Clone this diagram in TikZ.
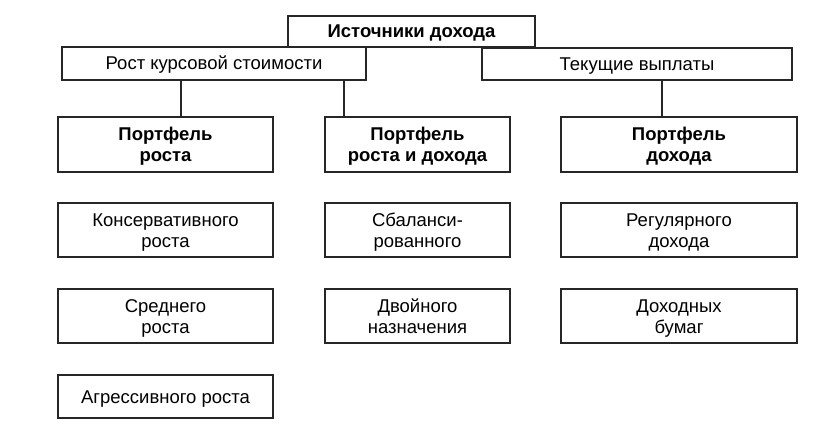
\documentclass[tikz,border=0pt]{standalone}
\usepackage{fontspec}
\setmainfont{Liberation Sans}

\begin{document}
\begin{tikzpicture}[x=1pt,y=-1pt,
		box/.style={draw=black!85,line width=1.3pt,align=center,inner sep=0pt,
			text height=13pt,text depth=0pt,font=\fontsize{18.5}{21}\selectfont},
		head/.style={box,font=\fontsize{18.5}{21}\selectfont\bfseries},
		two/.style={text height=34pt},
		link/.style={draw=black!85,line width=1.3pt}]
		\useasboundingbox (0,0) rectangle (838,425);

		% Top level
		\node[head,minimum width=247pt,minimum height=31pt] (src) at (411.5,31.5) {Источники дохода};
		\node[box,minimum width=304pt,minimum height=33pt] (growth) at (214,63.5) {Рост курсовой стоимости};
		\node[box,minimum width=310pt,minimum height=32pt] (pay) at (637,64) {Текущие выплаты};

		% Portfolios
		\node[head,two,minimum width=215pt,minimum height=55pt] (pg) at (165.5,144.5) {Портфель\\роста};
		\node[head,two,minimum width=185pt,minimum height=55pt] (pgi) at (417.5,144.5) {Портфель\\роста и дохода};
		\node[head,two,minimum width=236pt,minimum height=55pt] (pi) at (679,144.5) {Портфель\\дохода};

		% Kinds
		\node[box,two,minimum width=215pt,minimum height=54pt] (cons) at (165.5,230) {Консервативного\\роста};
		\node[box,two,minimum width=215pt,minimum height=54pt] (mid) at (165.5,316) {Среднего\\роста};
		\node[box,minimum width=215pt,minimum height=43pt] (aggr) at (165.5,396.5) {Агрессивного роста};
		\node[box,two,minimum width=185pt,minimum height=54pt] (bal) at (417.5,230) {Сбаланси-\\рованного};
		\node[box,two,minimum width=185pt,minimum height=54pt] (dual) at (417.5,316) {Двойного\\назначения};
		\node[box,two,minimum width=236pt,minimum height=54pt] (reg) at (679,230) {Регулярного\\дохода};
		\node[box,two,minimum width=236pt,minimum height=54pt] (bond) at (679,316) {Доходных\\бумаг};

		% Links
		\coordinate (l1) at (181,80);
		\coordinate (l2) at (344,80);
		\coordinate (l3) at (662,80);
		\draw[link] (l1) -- (l1 |- pg.north);
		\draw[link] (l2) -- (l2 |- pgi.north);
		\draw[link] (l3) -- (l3 |- pi.north);
	\end{tikzpicture}
\end{document}
